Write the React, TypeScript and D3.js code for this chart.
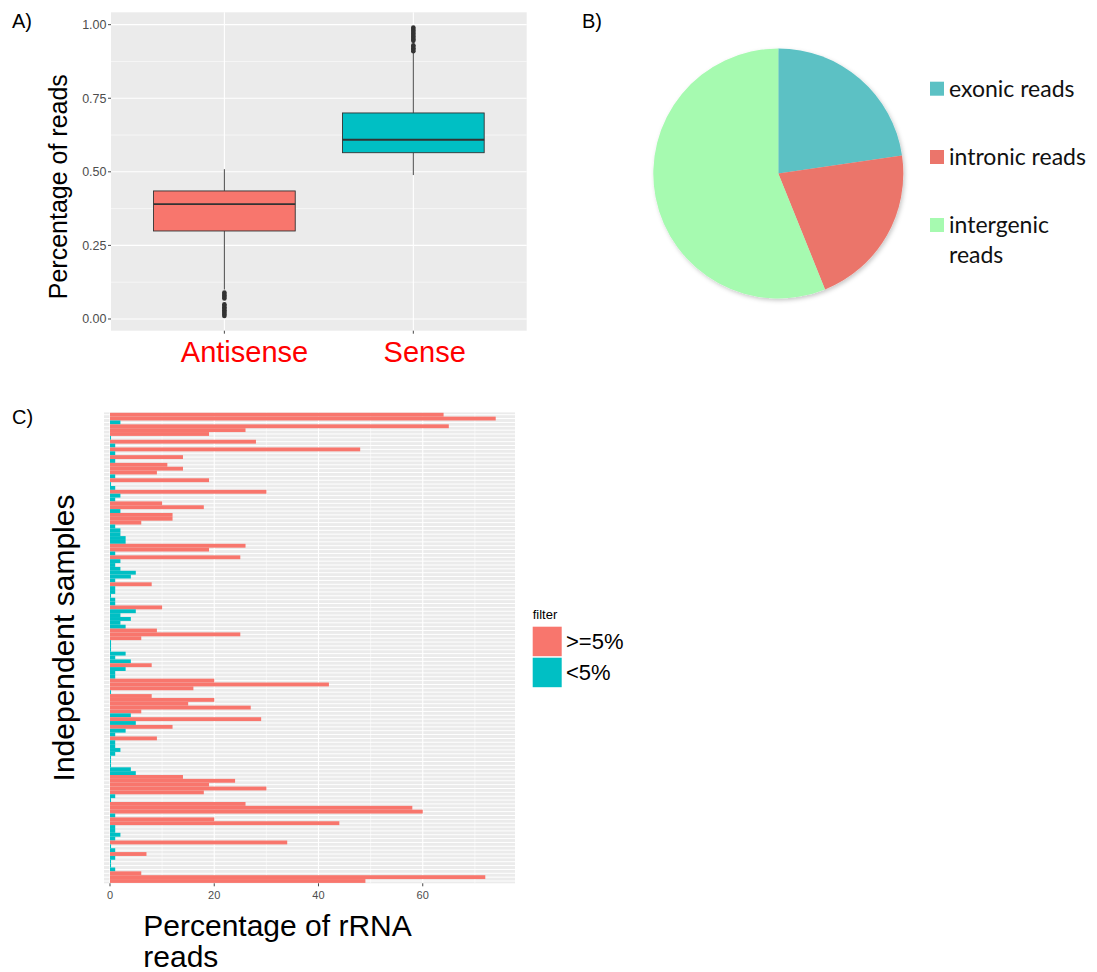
import React from 'react';
import * as d3 from 'd3';

// ---- A) share of reads per strand (boxplot summary, read off the figure)
const strands = ['Antisense', 'Sense'];
const whiskerLow = [0.1, 0.489];
const quartile1 = [0.299, 0.565];
const medians = [0.39, 0.609];
const quartile3 = [0.435, 0.7];
const whiskerHigh = [0.509, 0.908];
const antisenseOutliers = [0.09, 0.085, 0.08, 0.075, 0.07, 0.05, 0.045, 0.04, 0.035, 0.03, 0.025, 0.02, 0.015, 0.01];
const senseOutliers = [0.99, 0.985, 0.98, 0.975, 0.97, 0.965, 0.96, 0.955, 0.95, 0.945, 0.93, 0.925, 0.92, 0.915, 0.91];
const strandTicks = [0, 0.25, 0.5, 0.75, 1];

// ---- B) read types
const readTypes = ['exonic reads', 'intronic reads', 'intergenic reads'];
const readShares = [22.7, 21.2, 56.1];
const readLabelLines = [['exonic reads'], ['intronic reads'], ['intergenic', 'reads']];
const readColors = ['#5BC1C4', '#EB756B', '#A6FAB0'];

// ---- C) rRNA percentage per sample, top to bottom
const rrnaPercent = [
  64, 74, 2, 65, 26, 19, 0.2, 28, 1, 48, 1, 14, 1, 11, 14, 9, 1, 19, 0.2, 1,
  30, 2, 1, 10, 18, 2, 12, 12, 6, 1, 2, 2, 3, 3, 26, 19, 1, 25, 2, 1,
  2, 4.95, 4, 1, 8, 1, 1, 0.2, 1, 1, 10, 4.95, 2, 4, 2, 3, 9, 25, 6, 0.2,
  0.2, 0.2, 3, 1, 4, 8, 3, 1, 1, 20, 42, 16, 0.2, 8, 20, 15, 27, 6, 4, 29,
  4.95, 12, 3, 1, 9, 1, 1, 2, 1, 0.2, 0.2, 0.2, 4, 4.95, 14, 24, 19, 30, 18, 1,
  0.2, 26, 58, 60, 1, 20, 44, 1, 1, 2, 1, 34, 0.2, 1, 7, 1, 0.2, 0.2, 1, 6,
  72, 49,
];
const filterLevels = ['>=5%', '<5%'];
const rrnaTicks = [0, 20, 40, 60];

const RED = '#F8766D';
const TEAL = '#00BFC4';
const PANEL = '#EBEBEB';
const AXIS_TEXT = '#4D4D4D';
const SANS = "'Liberation Sans', Arial, Helvetica, sans-serif";

function StrandBoxes() {
  const left = 111, right = 526.7, top = 12.3, bottom = 330.7;
  const y = d3.scaleLinear().domain([-0.0398, 1.042]).range([bottom, top]);
  const x = d3.scaleBand().domain(strands).range([left, right]).paddingInner(0).paddingOuter(0.1);
  const cx = (s: string) => (x(s) as number) + x.bandwidth() / 2;
  const boxW = x.bandwidth() * 0.75;
  const minor = d3.range(0.125, 1, 0.25);
  const outliers = [antisenseOutliers, senseOutliers];
  const labelX = [244.5, 424.7];

  return (
    <g>
      <rect x={left} y={top} width={right - left} height={bottom - top} fill={PANEL} />
      {minor.map(v => (
        <line key={'mn' + v} x1={left} x2={right} y1={y(v)} y2={y(v)} stroke="#fff" strokeWidth={0.55} />
      ))}
      {strandTicks.map(v => (
        <line key={'mj' + v} x1={left} x2={right} y1={y(v)} y2={y(v)} stroke="#fff" strokeWidth={1.1} />
      ))}
      {strands.map(s => (
        <line key={'v' + s} x1={cx(s)} x2={cx(s)} y1={top} y2={bottom} stroke="#fff" strokeWidth={1.1} />
      ))}
      {strands.map((s, i) => (
        <g key={s}>
          <line x1={cx(s)} x2={cx(s)} y1={y(whiskerHigh[i])} y2={y(quartile3[i])} stroke="#333" strokeWidth={0.9} />
          <line x1={cx(s)} x2={cx(s)} y1={y(quartile1[i])} y2={y(whiskerLow[i])} stroke="#333" strokeWidth={0.9} />
          <rect
            x={cx(s) - boxW / 2}
            y={y(quartile3[i])}
            width={boxW}
            height={y(quartile1[i]) - y(quartile3[i])}
            fill={i === 0 ? RED : TEAL}
            stroke="#333"
            strokeWidth={0.9}
          />
          <line x1={cx(s) - boxW / 2} x2={cx(s) + boxW / 2} y1={y(medians[i])} y2={y(medians[i])} stroke="#333" strokeWidth={1.8} />
          {outliers[i].map((v, j) => (
            <circle key={j} cx={cx(s)} cy={y(v)} r={2.3} fill="#333" />
          ))}
        </g>
      ))}
      {strandTicks.map(v => (
        <g key={'t' + v}>
          <line x1={left - 3} x2={left} y1={y(v)} y2={y(v)} stroke="#333" strokeWidth={0.9} />
          <text x={left - 4.5} y={y(v) + 4.3} textAnchor="end" fontSize={12.5} fill={AXIS_TEXT} fontFamily={SANS}>
            {v.toFixed(2)}
          </text>
        </g>
      ))}
      {strands.map((s, i) => (
        <g key={'xt' + s}>
          <line x1={cx(s)} x2={cx(s)} y1={bottom} y2={bottom + 3} stroke="#333" strokeWidth={0.9} />
          <text x={labelX[i]} y={361.7} textAnchor="middle" fontSize={29} fill="#FF0000" fontFamily={SANS}>
            {s}
          </text>
        </g>
      ))}
      <text transform="translate(67,186.7) rotate(-90)" textAnchor="middle" fontSize={25} fill="#000" fontFamily={SANS}>
        Percentage of reads
      </text>
    </g>
  );
}

function ReadTypePie() {
  const cx = 778.3, cy = 173.5, r = 125;
  const arcs = d3.pie<number>().sort(null).value(d => d)(readShares);
  const arc = d3.arc<d3.PieArcDatum<number>>().innerRadius(0).outerRadius(r);
  const legendY = [81.7, 150, 218];
  return (
    <g>
      <defs>
        <filter id="pieShadow" x="-20%" y="-20%" width="140%" height="140%">
          <feDropShadow dx="1.5" dy="2" stdDeviation="2" floodColor="#000" floodOpacity="0.22" />
        </filter>
      </defs>
      <g transform={`translate(${cx},${cy})`} filter="url(#pieShadow)">
        {arcs.map((a, i) => (
          <path key={readTypes[i]} d={arc(a) as string} fill={readColors[i]} />
        ))}
      </g>
      {readTypes.map((t, i) => (
        <g key={'lg' + t}>
          <rect x={930} y={legendY[i]} width={14} height={14} fill={readColors[i]} />
          {readLabelLines[i].map((line, j) => (
            <text key={j} x={949} y={legendY[i] + 15.3 + j * 30} fontSize={23} fill="#111" fontFamily="Lato, 'Open Sans', sans-serif">
              {line}
            </text>
          ))}
        </g>
      ))}
    </g>
  );
}

function RrnaBars() {
  const left = 104, right = 515, top = 412.4, bottom = 883.3;
  const x = d3.scaleLinear().domain([-1.15, 77.7]).range([left, right]);
  const y = d3
    .scaleBand<number>()
    .domain(d3.range(rrnaPercent.length))
    .range([top, bottom])
    .paddingInner(0)
    .paddingOuter(0.1);
  const minor = [10, 30, 50, 70];
  return (
    <g>
      <rect x={left} y={top} width={right - left} height={bottom - top} fill={PANEL} />
      {minor.map(v => (
        <line key={'mn' + v} x1={x(v)} x2={x(v)} y1={top} y2={bottom} stroke="#fff" strokeWidth={0.55} />
      ))}
      {rrnaTicks.map(v => (
        <line key={'mj' + v} x1={x(v)} x2={x(v)} y1={top} y2={bottom} stroke="#fff" strokeWidth={1.1} />
      ))}
      {rrnaPercent.map((_, i) => (
        <line
          key={'h' + i}
          x1={left}
          x2={right}
          y1={(y(i) as number) + y.bandwidth() / 2}
          y2={(y(i) as number) + y.bandwidth() / 2}
          stroke="#fff"
          strokeWidth={1}
        />
      ))}
      {rrnaPercent.map((v, i) => (
        <rect
          key={'b' + i}
          x={x(0)}
          y={y(i) as number}
          width={x(v) - x(0)}
          height={y.bandwidth()}
          fill={v >= 5 ? RED : TEAL}
        />
      ))}
      {rrnaTicks.map(v => (
        <g key={'t' + v}>
          <line x1={x(v)} x2={x(v)} y1={bottom} y2={bottom + 3} stroke="#333" strokeWidth={0.9} />
          <text x={x(v)} y={898.7} textAnchor="middle" fontSize={11} fill={AXIS_TEXT} fontFamily={SANS}>
            {v}
          </text>
        </g>
      ))}
      <text transform="translate(74,638) rotate(-90)" textAnchor="middle" fontSize={30} fill="#000" fontFamily={SANS}>
        Independent samples
      </text>
      <text x={143.3} y={936} fontSize={30} fill="#000" fontFamily={SANS}>
        Percentage of rRNA
      </text>
      <text x={143.3} y={967.3} fontSize={30} fill="#000" fontFamily={SANS}>
        reads
      </text>
      {/* legend */}
      <text x={532.7} y={619.3} fontSize={13} fill="#000" fontFamily={SANS}>
        filter
      </text>
      {filterLevels.map((lv, i) => (
        <g key={lv}>
          <rect x={532.7} y={626.7 + i * 31} width={29} height={29.5} fill={i === 0 ? RED : TEAL} />
          <text x={566} y={649.3 + i * 30.9} fontSize={22} fill="#000" fontFamily={SANS}>
            {lv}
          </text>
        </g>
      ))}
    </g>
  );
}

export default function App() {
  return (
    <svg
      width={1097}
      height={972}
      style={{ position: 'absolute', left: 0, top: 0, background: '#fff' }}
    >
      <text x={12} y={28} fontSize={20} fill="#000" fontFamily={SANS}>A)</text>
      <text x={582} y={28} fontSize={20} fill="#000" fontFamily={SANS}>B)</text>
      <text x={12} y={424} fontSize={20} fill="#000" fontFamily={SANS}>C)</text>
      <StrandBoxes />
      <ReadTypePie />
      <RrnaBars />
    </svg>
  );
}
